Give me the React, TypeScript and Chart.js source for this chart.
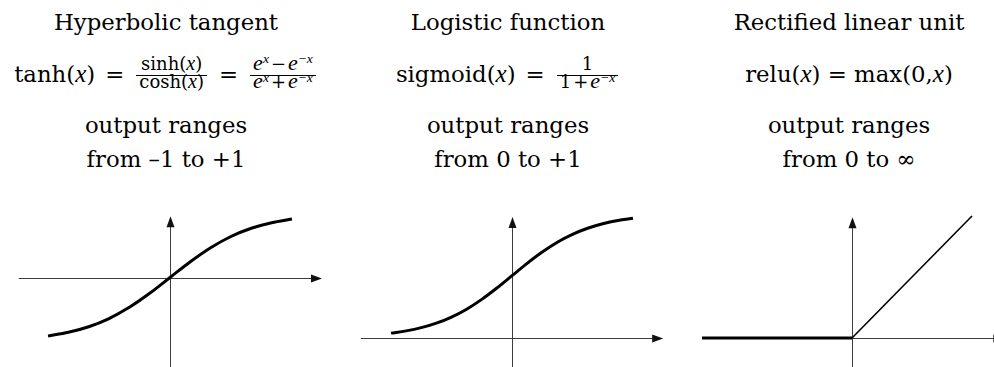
import React, { useEffect, useRef } from "react";
import { Chart, registerables } from "chart.js";

Chart.register(...registerables);

// ---- Data ----
const tanhX = [-1.5, -1.25, -1, -0.75, -0.5, -0.25, 0, 0.25, 0.5, 0.75, 1, 1.25, 1.5];
const tanhY = [-0.905, -0.848, -0.762, -0.635, -0.462, -0.245, 0, 0.245, 0.462, 0.635, 0.762, 0.848, 0.905];

const sigmoidX = [-3.2, -2.8, -2.4, -2, -1.6, -1.2, -0.8, -0.4, 0, 0.4, 0.8, 1.2, 1.6, 2, 2.4, 2.8, 3.2];
const sigmoidY = [0.039, 0.057, 0.083, 0.119, 0.168, 0.231, 0.31, 0.401, 0.5, 0.599, 0.69, 0.769, 0.832, 0.881, 0.917, 0.943, 0.961];

const reluX = [-1.25, 0, 1];
const reluY = [0, 0, 1];

const titles = ["Hyperbolic tangent", "Logistic function", "Rectified linear unit"];
const rangeLines = ["from \u20131 to +1", "from 0 to +1", "from 0 to \u221E"];

// ---- Layout ----
const CANVAS_TOP = 200;
const CANVAS_H = 167;
const FONT = '"DejaVu Serif", serif';
const IT = '"Liberation Serif", serif';
const MAIN = 22.8;

type Panel = {
  key: string;
  left: number;
  width: number;
  originX: number;
  originY: number;
  unitX: number;
  unitY: number;
  axisX: [number, number];
  axisY: [number, number];
  xs: number[];
  ys: number[];
  relu?: boolean;
};

const PANELS: Panel[] = [
  { key: "tanh", left: 0, width: 340, originX: 170, originY: 277.5, unitX: 81.3, unitY: 64.6, axisX: [-1.86, 1.87], axisY: [-2, 0.95], xs: tanhX, ys: tanhY },
  { key: "sigmoid", left: 340, width: 340, originX: 512, originY: 338, unitX: 37.8, unitY: 124.6, axisX: [-4, 4], axisY: [-0.5, 0.971], xs: sigmoidX, ys: sigmoidY },
  { key: "relu", left: 680, width: 340, originX: 852, originY: 338, unitX: 120, unitY: 122, axisX: [-1.25, 1.27], axisY: [-0.5, 0.99], xs: reluX, ys: reluY, relu: true },
];

const TEXT_CENTERS = [166, 508, 849];

const arrowAxes = {
  id: "arrowAxes",
  beforeDatasetsDraw(chart: any, _args: any, opts: any) {
    const { ctx, scales } = chart;
    const sx = scales.x;
    const sy = scales.y;
    const x0 = Math.round(sx.getPixelForValue(0)) + 0.5;
    const y0 = Math.round(sy.getPixelForValue(0)) + 0.5;
    const xa = sx.getPixelForValue(opts.axisX[0]);
    const xb = sx.getPixelForValue(opts.axisX[1]);
    const ya = sy.getPixelForValue(opts.axisY[0]);
    const yb = sy.getPixelForValue(opts.axisY[1]);
    const L = 11;
    const W = 4;
    ctx.save();
    ctx.strokeStyle = "#3c3c3c";
    ctx.fillStyle = "#111";
    ctx.lineWidth = 1;
    ctx.beginPath();
    ctx.moveTo(xa, y0);
    ctx.lineTo(xb - L + 1, y0);
    ctx.moveTo(x0, ya);
    ctx.lineTo(x0, yb + L - 1);
    ctx.stroke();
    ctx.beginPath();
    ctx.moveTo(xb, y0);
    ctx.lineTo(xb - L, y0 - W);
    ctx.lineTo(xb - L, y0 + W);
    ctx.closePath();
    ctx.fill();
    ctx.beginPath();
    ctx.moveTo(x0, yb);
    ctx.lineTo(x0 - W, yb + L);
    ctx.lineTo(x0 + W, yb + L);
    ctx.closePath();
    ctx.fill();
    ctx.restore();
  },
};

function PanelChart({ p }: { p: Panel }) {
  const ref = useRef<HTMLCanvasElement>(null);
  useEffect(() => {
    const canvas = ref.current;
    if (!canvas) return;
    const xmin = (p.left - p.originX) / p.unitX;
    const xmax = (p.left + p.width - p.originX) / p.unitX;
    const ymax = (p.originY - CANVAS_TOP) / p.unitY;
    const ymin = (p.originY - (CANVAS_TOP + CANVAS_H)) / p.unitY;
    const points = p.xs.map((x, i) => ({ x, y: p.ys[i] }));
    const dataset: any = {
      data: points,
      showLine: true,
      borderColor: "#000",
      borderWidth: 3,
      pointRadius: 0,
      pointHoverRadius: 0,
      fill: false,
      clip: false,
    };
    if (p.relu) {
      dataset.tension = 0;
      dataset.segment = {
        borderWidth: (ctx: any) => (ctx.p0DataIndex === 0 ? 3 : 1.6),
      };
    } else {
      dataset.cubicInterpolationMode = "monotone";
    }
    const chart = new Chart(canvas, {
      type: "scatter",
      data: { datasets: [dataset] },
      options: {
        animation: false,
        responsive: false,
        maintainAspectRatio: false,
        events: [],
        layout: { padding: 0 },
        plugins: {
          legend: { display: false },
          tooltip: { enabled: false },
          title: { display: false },
          arrowAxes: { axisX: p.axisX, axisY: p.axisY },
        } as any,
        scales: {
          x: { type: "linear", display: false, min: xmin, max: xmax },
          y: { type: "linear", display: false, min: ymin, max: ymax },
        },
      },
      plugins: [arrowAxes],
    });
    return () => chart.destroy();
  }, [p]);
  return (
    <canvas
      ref={ref}
      width={p.width}
      height={CANVAS_H}
      style={{ position: "absolute", left: p.left, top: CANVAS_TOP, width: p.width, height: CANVAS_H }}
    />
  );
}

const V = ({ children, size }: { children: any; size: number }) => (
  <span style={{ fontFamily: IT, fontStyle: "italic", fontSize: size, lineHeight: 0 }}>{children}</span>
);

const Sup = ({ children }: { children: any }) => (
  <span style={{ fontFamily: IT, fontStyle: "italic", fontSize: 13.5, position: "relative", top: -6.5, lineHeight: 0 }}>
    {children}
  </span>
);

function Frac({ num, den }: { num: any; den: any }) {
  return (
    <span
      style={{
        display: "inline-block",
        position: "relative",
        top: -12,
        fontSize: 18,
        lineHeight: 1,
        textAlign: "center",
        margin: "0 2px",
      }}
    >
      <span style={{ display: "block", padding: "0 3px 2px", borderBottom: "1px solid #000" }}>{num}</span>
      <span style={{ display: "block", padding: "0 3px", marginTop: -2.6 }}>{den}</span>
    </span>
  );
}

const Eq = () => <span style={{ margin: "0 10px" }}>=</span>;
const Op = ({ c }: { c: string }) => <span style={{ margin: "0 2px" }}>{c}</span>;

const formulas = [
  <>
    <span>
      tanh(<V size={25}>x</V>)
    </span>
    <Eq />
    <Frac
      num={<>sinh(<V size={20}>x</V>)</>}
      den={<>cosh(<V size={20}>x</V>)</>}
    />
    <Eq />
    <Frac
      num={<><V size={22}>e</V><Sup>x</Sup><Op c={"\u2212"} /><V size={22}>e</V><Sup>{"\u2212x"}</Sup></>}
      den={<><V size={22}>e</V><Sup>x</Sup><Op c="+" /><V size={22}>e</V><Sup>{"\u2212x"}</Sup></>}
    />
  </>,
  <>
    <span>
      sigmoid(<V size={25}>x</V>)
    </span>
    <Eq />
    <Frac
      num={<>1</>}
      den={<>1<Op c="+" /><V size={22}>e</V><Sup>{"\u2212x"}</Sup></>}
    />
  </>,
  <>
    <span style={{ whiteSpace: "pre" }}>
      relu(<V size={25}>x</V>) = max(0,<V size={25}>x</V>)
    </span>
  </>,
];

export default function App() {
  const lineStyle = (cx: number, top: number): React.CSSProperties => ({
    position: "absolute",
    left: cx - 200,
    width: 400,
    top,
    textAlign: "center",
    fontFamily: FONT,
    fontSize: MAIN,
    lineHeight: 1,
    whiteSpace: "nowrap",
    color: "#000",
  });
  return (
    <div
      style={{
        position: "fixed",
        left: 0,
        top: 0,
        width: 994,
        height: 367,
        overflow: "hidden",
        background: "#fff",
      }}
    >
      {PANELS.map((p) => (
        <PanelChart key={p.key} p={p} />
      ))}
      {TEXT_CENTERS.map((cx, i) => (
        <React.Fragment key={i}>
          <div style={lineStyle(cx, 10.7)}>{titles[i]}</div>
          <div
            style={{
              ...lineStyle(cx, 82 - 19.3),
              display: "flex",
              justifyContent: "center",
              alignItems: "baseline",
            }}
          >
            {formulas[i]}
          </div>
          <div style={lineStyle(cx, 113.7)}>output ranges</div>
          <div style={lineStyle(cx, 147.7)}>{rangeLines[i]}</div>
        </React.Fragment>
      ))}
    </div>
  );
}
